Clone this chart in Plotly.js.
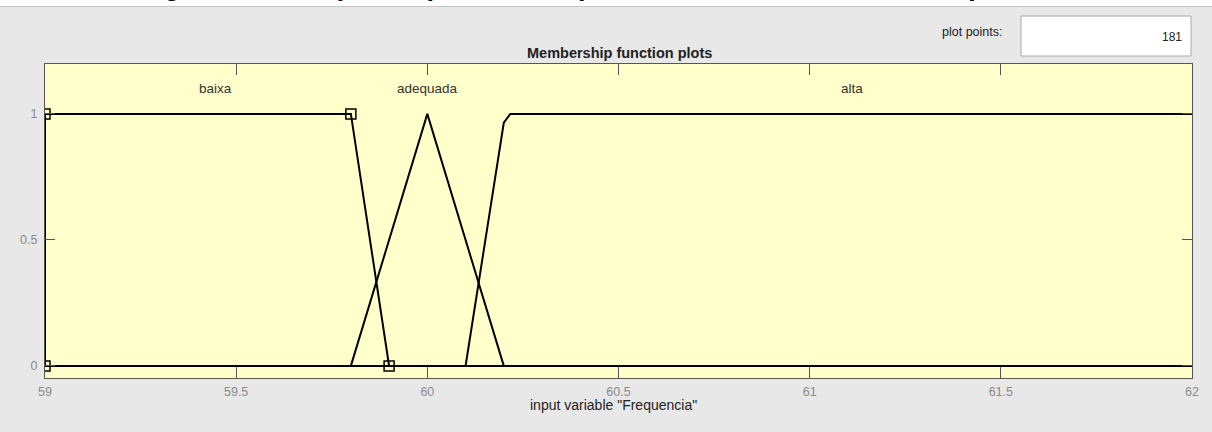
<!DOCTYPE html>
<html>
<head>
<meta charset="utf-8">
<script src="https://cdn.plot.ly/plotly-3.0.1.min.js"></script>
<style>
  html, body { margin: 0; padding: 0; overflow: hidden; background: #e8e8e8; }
  #chart { width: 1212px; height: 432px; }
</style>
</head>
<body>
<div id="chart"></div>
<script>
// ---- data ----
const baixaX = [59, 59, 59.8, 59.9, 62];
const baixaY = [0, 1, 1, 0, 0];
const baixaParamsX = [59, 59, 59.8, 59.9];
const baixaParamsY = [0, 1, 1, 0];

const adequadaX = [59, 59.8, 60, 60.2, 62];
const adequadaY = [0, 0, 1, 0, 0];

const altaX = [59, 60.1, 60.2, 60.217, 62];
const altaY = [0, 0, 0.965, 1, 1];

const mfNames = ["baixa", "adequada", "alta"];
const mfLabelX = [59.445, 60.0, 61.11];
const mfLabelY = 1.1;

const xTicks = [59, 59.5, 60, 60.5, 61, 61.5, 62];
const yTicks = [0, 0.5, 1];

const plotTitle = "Membership function plots";
const xTitle = 'input variable "Frequencia"';
const caption = "Figura 19 - Função de pertinência para a variável de entrada Frequência";
const plotPointsLabel = "plot points:";
const plotPointsValue = "181";

// ---- layout geometry (pixels) ----
const W = 1212, H = 432;
const M = { l: 45, r: 20, t: 64, b: 54 };
const pw = W - M.l - M.r, ph = H - M.t - M.b;
const px = x => (x - M.l) / pw;          // pixel x -> paper
const py = y => (H - M.b - y) / ph;      // pixel y -> paper

const FONT = "Liberation Sans, Arial, sans-serif";
const lineStyle = { color: "#000000", width: 2 };

const traces = [
  { x: baixaX, y: baixaY, mode: "lines", line: lineStyle, hoverinfo: "skip" },
  { x: adequadaX, y: adequadaY, mode: "lines", line: lineStyle, hoverinfo: "skip" },
  { x: altaX, y: altaY, mode: "lines", line: lineStyle, hoverinfo: "skip" },
  { x: baixaParamsX, y: baixaParamsY, mode: "markers",
    marker: { symbol: "square-open", size: 10, color: "#000000", line: { width: 1.5, color: "#000000" } },
    hoverinfo: "skip" }
];

const annotations = [];
mfNames.forEach((n, i) => annotations.push({
  x: mfLabelX[i], y: mfLabelY, xref: "x", yref: "y", text: n, showarrow: false,
  xanchor: "center", yanchor: "middle",
  font: { family: FONT, size: 13.5, color: "#333333" }
}));
annotations.push({
  x: px(619), y: py(52.5), xref: "paper", yref: "paper", text: "<b>" + plotTitle + "</b>",
  xanchor: "center", yanchor: "middle", showarrow: false,
  font: { family: FONT, size: 14.5, color: "#222222" }
});
annotations.push({
  x: px(613), y: py(405), xref: "paper", yref: "paper", text: xTitle,
  xanchor: "center", yanchor: "middle", showarrow: false,
  font: { family: FONT, size: 14, color: "#222222" }
});
annotations.push({
  x: px(972), y: py(32), xref: "paper", yref: "paper", text: plotPointsLabel,
  xanchor: "center", yanchor: "middle", showarrow: false,
  font: { family: FONT, size: 12.5, color: "#222222" }
});
annotations.push({
  x: px(1184), y: py(37), xref: "paper", yref: "paper", text: plotPointsValue,
  xanchor: "right", yanchor: "middle", showarrow: false,
  font: { family: FONT, size: 12, color: "#222222" }
});
annotations.push({
  x: px(601), y: py(3), xref: "paper", yref: "paper", text: "<b>" + caption + "</b>",
  xanchor: "center", yanchor: "bottom", showarrow: false,
  font: { family: FONT, size: 27, color: "#000000" }
});

const shapes = [
  { type: "rect", xref: "paper", yref: "paper", x0: px(-5), x1: px(W + 5), y0: py(6), y1: py(-10),
    fillcolor: "#ffffff", line: { width: 0 }, layer: "below" },
  { type: "line", xref: "paper", yref: "paper", x0: px(-5), x1: px(W + 5), y0: py(6.5), y1: py(6.5),
    line: { color: "#c4c4c4", width: 1 }, layer: "below" },
  { type: "rect", xref: "paper", yref: "paper", x0: px(1021), x1: px(1191), y0: py(56), y1: py(16),
    fillcolor: "#ffffff", line: { color: "#a8a8a8", width: 1 }, layer: "below" }
];

const axisCommon = {
  showgrid: false, zeroline: false, showline: true, linecolor: "#555555", linewidth: 1,
  mirror: "ticks", ticks: "inside", tickcolor: "#555555", tickwidth: 1,
  tickfont: { family: FONT, size: 12.5, color: "#8a8a8a" },
  fixedrange: true
};

const layout = {
  width: W, height: H,
  margin: M,
  paper_bgcolor: "#e8e8e8",
  plot_bgcolor: "#ffffcc",
  showlegend: false,
  xaxis: Object.assign({}, axisCommon, {
    range: [59, 62], tickvals: xTicks, ticktext: xTicks.map(String), ticklen: 11,
    ticklabelstandoff: 2
  }),
  yaxis: Object.assign({}, axisCommon, {
    range: [-0.048, 1.198], tickvals: yTicks, ticktext: yTicks.map(String), ticklen: 10,
    ticklabelstandoff: 4
  }),
  annotations: annotations,
  shapes: shapes
};

Plotly.newPlot("chart", traces, layout, { staticPlot: true, displayModeBar: false });
</script>
</body>
</html>
